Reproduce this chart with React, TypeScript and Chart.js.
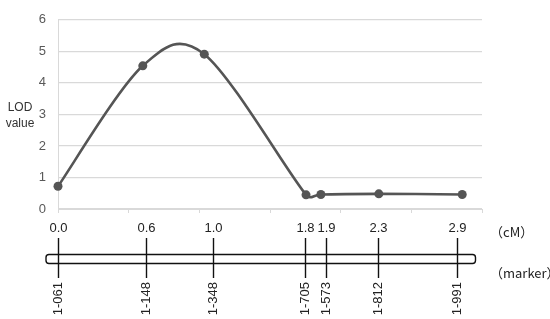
import React, { useEffect, useRef } from "react";
import { Chart, registerables } from "chart.js";

Chart.register(...registerables);

// point positions (cM) and LOD values
const pointCM = [0.0, 0.6, 1.035, 1.755, 1.86, 2.27, 2.86];
const lodValues = [0.72, 4.54, 4.91, 0.45, 0.46, 0.48, 0.46];
// marker positions on the drawn map (cM) and their labels
const mapCM = [0.0, 0.62, 1.095, 1.745, 1.895, 2.265, 2.82];
const cmLabels = ["0.0", "0.6", "1.0", "1.8", "1.9", "2.3", "2.9"];
const markerLabels = ["1-061", "1-148", "1-348", "1-705", "1-573", "1-812", "1-991"];
const yTitle = ["LOD", "value"];
const cmUnit = "（cM）";
const markerUnit = "（marker）";

const FONT = "'Liberation Sans', 'Noto Sans', sans-serif";
const CJK = "'Noto Sans CJK SC', 'Liberation Sans', sans-serif";

// Excel-like smoothing: Catmull-Rom (1/6) control points, capped by segment length
const smoothPlugin = {
  id: "smoothPlugin",
  beforeDatasetDraw(chart: any, args: any) {
    const meta = args.meta;
    const line = meta.dataset;
    const pts = meta.data;
    const n = pts.length;
    const dist = (a: any, b: any) => Math.hypot(b.x - a.x, b.y - a.y);
    for (let i = 0; i < n; i++) {
      const cur = pts[i];
      const prev = pts[Math.max(0, i - 1)];
      const next = pts[Math.min(n - 1, i + 1)];
      const dx = (next.x - prev.x) / 6;
      const dy = (next.y - prev.y) / 6;
      const len = Math.hypot(dx, dy) || 1;
      const dPrev = dist(prev, cur);
      const dNext = dist(cur, next);
      const sBack = Math.min(1, (0.5 * dPrev) / len);
      const sFwd = Math.min(1, (0.5 * dNext) / len);
      cur.cp1x = cur.x - dx * sBack;
      cur.cp1y = cur.y - dy * sBack;
      cur.cp2x = cur.x + dx * sFwd;
      cur.cp2y = cur.y + dy * sFwd;
    }
    line._pointsUpdated = true;
    line._path = undefined;
  },
};

const mapPlugin = {
  id: "mapPlugin",
  afterDraw(chart: any) {
    const ctx = chart.ctx;
    const xs = chart.scales.x;
    const area = chart.chartArea;
    ctx.save();
    ctx.fillStyle = "#333";
    ctx.font = `12px ${FONT}`;
    ctx.textAlign = "center";
    ctx.textBaseline = "middle";
    ctx.fillText(yTitle[0], 20, 108);
    ctx.fillText(yTitle[1], 20, 124);

    const barTop = 254.5;
    const barBot = 263.5;
    const left = area.left - 12;
    const right = area.right - 6.5;
    ctx.strokeStyle = "#111";
    ctx.lineWidth = 1.4;
    ctx.beginPath();
    const r = 3;
    ctx.moveTo(left + r, barTop);
    ctx.lineTo(right - r, barTop);
    ctx.quadraticCurveTo(right, barTop, right, barTop + r);
    ctx.lineTo(right, barBot - r);
    ctx.quadraticCurveTo(right, barBot, right - r, barBot);
    ctx.lineTo(left + r, barBot);
    ctx.quadraticCurveTo(left, barBot, left, barBot - r);
    ctx.lineTo(left, barTop + r);
    ctx.quadraticCurveTo(left, barTop, left + r, barTop);
    ctx.closePath();
    ctx.stroke();

    mapCM.forEach((v, i) => {
      const px = Math.round(xs.getPixelForValue(v)) + 0.5;
      ctx.beginPath();
      ctx.moveTo(px, 238);
      ctx.lineTo(px, 278);
      ctx.stroke();
      ctx.fillStyle = "#222";
      ctx.font = `13px ${FONT}`;
      ctx.textAlign = "center";
      ctx.textBaseline = "middle";
      ctx.fillText(cmLabels[i], px, 228);
      ctx.save();
      ctx.translate(px, 282);
      ctx.rotate(-Math.PI / 2);
      ctx.textAlign = "right";
      ctx.textBaseline = "middle";
      ctx.fillText(markerLabels[i], 0, 0);
      ctx.restore();
    });

    ctx.fillStyle = "#222";
    ctx.font = `13px ${CJK}`;
    ctx.textAlign = "left";
    ctx.textBaseline = "middle";
    ctx.fillText(cmUnit, 490, 232);
    ctx.fillText(markerUnit, 490, 273);
    ctx.restore();
  },
};

export default function App() {
  const ref = useRef<HTMLCanvasElement | null>(null);
  useEffect(() => {
    if (!ref.current) return;
    const chart = new Chart(ref.current, {
      type: "line",
      data: {
        datasets: [
          {
            data: pointCM.map((x, i) => ({ x, y: lodValues[i] })),
            borderColor: "#555555",
            backgroundColor: "#555555",
            borderWidth: 2.6,
            pointRadius: 4.5,
            pointBorderWidth: 0,
            tension: 0.4,
            clip: false,
          },
        ],
      },
      options: {
        animation: false,
        responsive: false,
        layout: { padding: { left: 0, top: 8, right: 68, bottom: 106 } },
        plugins: { legend: { display: false }, tooltip: { enabled: false } },
        scales: {
          x: {
            type: "linear",
            min: 0,
            max: 3,
            ticks: { display: false, stepSize: 0.5 },
            grid: {
              drawOnChartArea: false,
              drawTicks: true,
              tickLength: 4,
              color: "#d9d9d9",
            },
            border: { color: "#d9d9d9", width: 1 },
            afterFit: (s: any) => {
              s.height = 4;
            },
          },
          y: {
            min: 0,
            max: 6,
            ticks: {
              stepSize: 1,
              color: "#595959",
              font: { size: 13, family: FONT },
              padding: 12,
            },
            grid: { color: "#d9d9d9", drawTicks: false, lineWidth: 1.2 },
            border: { color: "#d9d9d9", width: 1 },
            afterFit: (s: any) => {
              s.width = 58;
            },
          },
        },
      },
      plugins: [smoothPlugin, mapPlugin],
    });
    return () => chart.destroy();
  }, []);
  return (
    <div style={{ position: "absolute", left: 0, top: 0, width: 550, height: 319, background: "#fff" }}>
      <canvas ref={ref} width={550} height={319} />
    </div>
  );
}
